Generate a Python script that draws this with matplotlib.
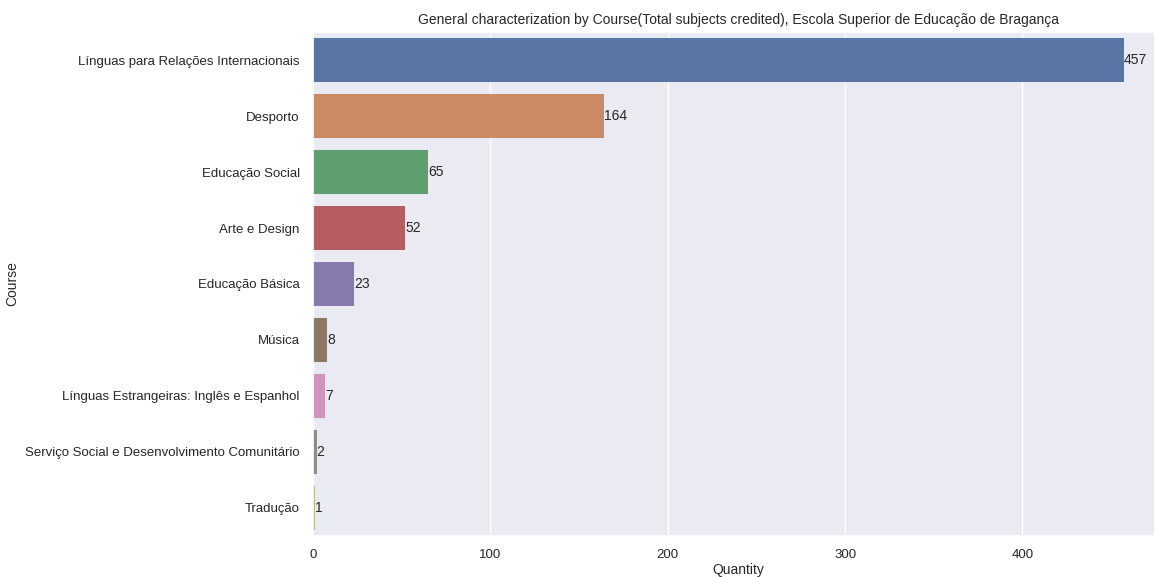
import matplotlib
matplotlib.use('Agg')
import matplotlib.pyplot as plt
import seaborn as sns
import pandas as pd

courses = ['Línguas para Relações Internacionais', 'Desporto', 'Educação Social',
           'Arte e Design', 'Educação Básica', 'Música',
           'Línguas Estrangeiras: Inglês e Espanhol',
           'Serviço Social e Desenvolvimento Comunitário', 'Tradução']
quantity = [457, 164, 65, 52, 23, 8, 7, 2, 1]

sns.set_theme(style='darkgrid')
plt.rcParams['font.family'] = ['Liberation Sans', 'DejaVu Sans']

df = pd.DataFrame({'Course': courses, 'Quantity': quantity})

fig = plt.figure(figsize=(11.54, 5.77), dpi=100)
# original screenshot is cropped on the right side
ax = fig.add_axes([0.2712, 0.0711, 0.7375, 0.8734])

sns.barplot(data=df, x='Quantity', y='Course', hue='Course',
            palette='deep', legend=False, ax=ax, linewidth=0)
for c in ax.containers:
    ax.bar_label(c, fontsize=10, color='#262626')

ax.set_xlim(0, 479.85)
ax.set_title('General characterization by Course(Total subjects credited), '
             'Escola Superior de Educação de Bragança', fontsize=10, color='#262626')
ax.tick_params(labelsize=9.5)
ax.set_xlabel('Quantity', fontsize=10, labelpad=1)
ax.set_ylabel('Course', fontsize=10)

fig.savefig('out.png', dpi=100)
